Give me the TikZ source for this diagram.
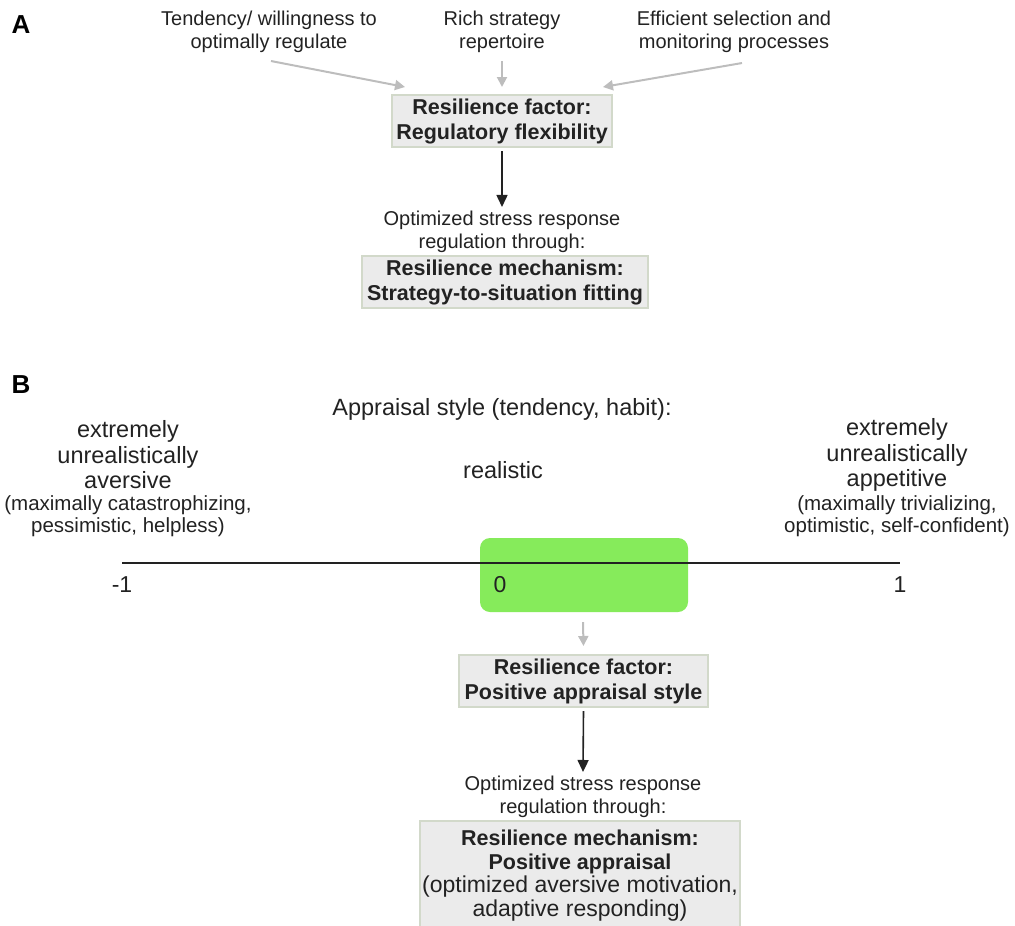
\documentclass[tikz,border=0pt]{standalone}
\usepackage{fontspec}
\setmainfont{Liberation Sans}
\usepackage{xcolor}
\definecolor{boxfill}{HTML}{EBEBEB}
\definecolor{boxline}{HTML}{D2D9CA}
\definecolor{grayarrow}{HTML}{BDBDBD}
\definecolor{ink}{HTML}{222222}
\definecolor{realgreen}{HTML}{86EB5B}
\usetikzlibrary{positioning,calc,arrows.meta}

\begin{document}
\begin{tikzpicture}[x=1pt,y=-1pt,text=ink,
  every node/.style={align=center,inner sep=0pt},
  small/.style={font=\fontsize{20}{23}\selectfont},
  mid/.style={font=\fontsize{23.5}{25.5}\selectfont},
  paren/.style={font=\fontsize{20.5}{22}\selectfont},
  boxed/.style={draw=boxline,line width=2pt,fill=boxfill,font=\fontsize{21.5}{25}\selectfont\bfseries},
  panel/.style={font=\fontsize{26}{28}\selectfont\bfseries,text=black},
  feed/.style={-{Triangle[length=10pt,width=10pt]},grayarrow,line width=2pt},
  lead/.style={-{Triangle[length=12pt,width=11pt]},ink,line width=1.6pt}]
  \useasboundingbox (0,0) rectangle (1015,926);
  % panel A
  \node[panel] (A) at (21,25) {A};
  \node[small] (tend) at (269,32) {Tendency/ willingness to\\optimally regulate};
  \node[small] (rich) at (502,32) {Rich strategy\\repertoire};
  \node[small] (eff) at (734,32) {Efficient selection and\\monitoring processes};
  \node[boxed,minimum width=220pt,minimum height=52pt] (fac1) at (502,121) {Resilience factor:\\Regulatory flexibility};
  \coordinate (in1) at (405,87);
  \coordinate (in2) at (502,87);
  \coordinate (in3) at (603,87);
  \draw[feed] ($(tend.south)+(2,8)$) -- (in1);
  \draw[feed] ($(rich.south)+(0,8)$) -- (in2);
  \draw[feed] ($(eff.south)+(8,10)$) -- (in3);
  \node[small] (opt1) at (502,232) {Optimized stress response\\regulation through:};
  \node[boxed,minimum width=286pt,minimum height=52pt] (mech1) at (505,282) {Resilience mechanism:\\Strategy-to-situation fitting};
  \draw[lead] ($(fac1.south)+(0,3)$) -- ($(opt1.north)+(0,-4)$);
  % panel B
  \node[panel] (B) at (21,385) {B};
  \node[mid] (style) at (502,409) {Appraisal style (tendency, habit):};
  \node[mid] (left) at (128,455) {extremely\\unrealistically\\aversive};
  \node[paren] (leftp) at (128,516) {(maximally catastrophizing,\\pessimistic, helpless)};
  \node[mid] (right) at (897,455) {extremely\\unrealistically\\appetitive};
  \node[paren] (rightp) at (897,516) {(maximally trivializing,\\optimistic, self-confident)};
  \node[mid] (real) at (503,470) {realistic};
  \node[fill=realgreen,rounded corners=10pt,minimum width=208pt,minimum height=74pt] (green) at (584,575) {};
  \coordinate (lo) at (122,563);
  \coordinate (hi) at (900,563);
  \draw[ink,line width=2pt] (lo) -- (hi);
  \foreach \v/\px in {-1/122,0/500,1/900}
    \node[font=\fontsize{23}{26}\selectfont] (t\px) at (\px,585) {\v};
  \node[boxed,minimum width=249pt,minimum height=52pt] (fac2) at (583.5,681) {Resilience factor:\\Positive appraisal style};
  \draw[feed] ($(green.south)+(-1,10)$) -- ($(fac2.north)+(0,-8)$);
  \node[small] (opt2) at (583,797) {Optimized stress response\\regulation through:};
  \draw[lead] ($(fac2.south)+(0,3)$) -- ($(opt2.north)+(0,-4)$);
  \node[boxed,anchor=north,minimum width=320pt,minimum height=109pt,font=\fontsize{21.5}{23.5}\selectfont\bfseries] (mech2) at (580,820) {Resilience mechanism:\\Positive appraisal\\\mdseries\fontsize{23}{23.5}\selectfont(optimized aversive motivation,\\\mdseries\fontsize{23}{23.5}\selectfont adaptive responding)};
\end{tikzpicture}
\end{document}
